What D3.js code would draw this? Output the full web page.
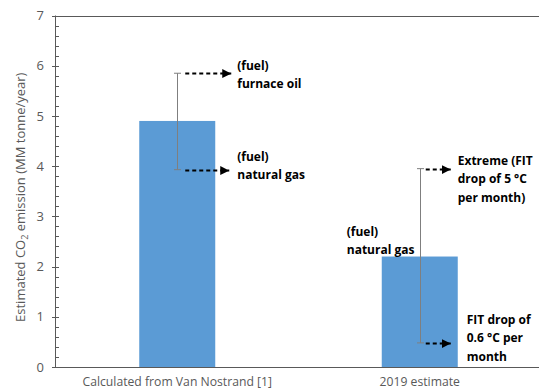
<!DOCTYPE html>
<html>
<head>
<meta charset="utf-8">
<script src="https://cdn.jsdelivr.net/npm/d3@7"></script>
<style>
  html, body { margin: 0; padding: 0; background: #fff; }
  svg { display: block; }
  text { font-family: "Open Sans", "Liberation Sans", sans-serif; }
</style>
</head>
<body>
<svg id="chart" width="539" height="392"></svg>
<script>
// Estimated CO2 emission per scenario (MM tonne/year)
const categories = ["Calculated from Van Nostrand [1]", "2019 estimate"];
const emissions = [4.9, 2.2];
const errorLow = [3.93, 0.48];
const errorHigh = [5.85, 3.95];
const yTicks = [0, 1, 2, 3, 4, 5, 6, 7];

// Callout labels: which bar, which value they point at, and their text lines
const arrowNotes = [
  { bar: 0, value: 5.85, lines: ["(fuel)", "furnace oil"] },
  { bar: 0, value: 3.93, lines: ["(fuel)", "natural gas"] },
  { bar: 1, value: 3.95, lines: ["Extreme (FIT", "drop of 5 °C", "per month)"] },
  { bar: 1, value: 0.48, lines: ["FIT drop of", "0.6 °C per", "month"] }
];
const plainNotes = [
  { bar: 1, value: 2.2, lines: ["(fuel)", "natural gas"] }
];

const svg = d3.select("#chart");
const plot = { left: 55, right: 539, top: 15.5, bottom: 367 };

const y = d3.scaleLinear().domain([0, 7]).range([plot.bottom, plot.top]);
const x = d3.scaleBand().domain(categories).range([56, 541]).padding(0);
const barW = 76;
const cx = i => x(categories[i]) + x.bandwidth() / 2;

const axisColor = "#595959";
const labelColor = "#595959";

// Arrowhead marker
svg.append("defs").append("marker")
  .attr("id", "head")
  .attr("viewBox", "0 0 10 10")
  .attr("refX", 10).attr("refY", 5)
  .attr("markerWidth", 4.5).attr("markerHeight", 4.5)
  .attr("markerUnits", "strokeWidth")
  .attr("orient", "auto")
  .append("path").attr("d", "M0,0 L10,5 L0,10 Z").attr("fill", "#000");

// Bars
svg.append("g").selectAll("rect")
  .data(emissions)
  .join("rect")
  .attr("x", (d, i) => cx(i) - barW / 2)
  .attr("y", d => y(d))
  .attr("width", barW)
  .attr("height", d => y(0) - y(d))
  .attr("fill", "#5B9BD5");

// Error bars
const eb = svg.append("g").attr("stroke", "#7f7f7f").attr("stroke-width", 1);
emissions.forEach((d, i) => {
  const c = Math.round(cx(i)) + 0.5;
  eb.append("line").attr("x1", c).attr("x2", c)
    .attr("y1", y(errorLow[i])).attr("y2", y(errorHigh[i]));
  [errorLow[i], errorHigh[i]].forEach(v => {
    eb.append("line").attr("x1", c - 3.5).attr("x2", c + 3.5)
      .attr("y1", y(v)).attr("y2", y(v));
  });
});

// Y axis with major and minor ticks
const yAxis = d3.axisLeft(y).tickValues(yTicks).tickFormat(d3.format("d"))
  .tickSize(0).tickPadding(11);
const gy = svg.append("g").attr("transform", `translate(${plot.left},0)`).call(yAxis);
gy.select(".domain").remove();
gy.selectAll(".tick text")
  .attr("fill", labelColor).style("font-size", "13px");

const minor = d3.range(0, 7.0001, 0.2).map(v => +v.toFixed(1));
svg.append("g").attr("stroke", axisColor).attr("stroke-width", 1)
  .selectAll("line").data(minor).join("line")
  .attr("x1", d => Number.isInteger(d) ? plot.left - 3 : plot.left)
  .attr("x2", plot.left + 4)
  .attr("y1", d => Math.round(y(d)) + 0.5)
  .attr("y2", d => Math.round(y(d)) + 0.5);

// Axis frame lines: left, bottom, top
const frame = svg.append("g").attr("stroke", axisColor).attr("stroke-width", 1);
frame.append("line").attr("x1", plot.left + 0.5).attr("x2", plot.left + 0.5)
  .attr("y1", y(7)).attr("y2", y(0));
frame.append("line").attr("x1", plot.left).attr("x2", plot.right)
  .attr("y1", Math.round(y(0)) + 0.5).attr("y2", Math.round(y(0)) + 0.5);
frame.append("line").attr("x1", plot.left).attr("x2", plot.right)
  .attr("y1", Math.round(y(7)) + 0.5).attr("y2", Math.round(y(7)) + 0.5);

// X category labels
const xAxis = d3.axisBottom(x).tickSize(0).tickPadding(10);
const gx = svg.append("g").attr("transform", `translate(0,${plot.bottom})`).call(xAxis);
gx.select(".domain").remove();
gx.selectAll(".tick text").attr("fill", labelColor).style("font-size", "12.2px");

// Y axis title
svg.append("text")
  .attr("transform", `translate(25,${(plot.top + plot.bottom) / 2 + 6}) rotate(-90)`)
  .attr("text-anchor", "middle")
  .attr("fill", labelColor)
  .style("font-size", "13px")
  .call(t => {
    t.append("tspan").text("Estimated CO");
    t.append("tspan").text("2").attr("dy", 3).style("font-size", "9px");
    t.append("tspan").text(" emission (MM tonne/year)").attr("dy", -3);
  });

// Dashed arrows pointing from the error bar ends to their labels
const arrowGeom = [
  { x0: 8, x1: 54, tx: 60, ty: -4 },
  { x0: 8, x1: 52, tx: 60, ty: -10 },
  { x0: 6, x1: 31, tx: 38, ty: -5 },
  { x0: 6, x1: 31, tx: 47, ty: -20 }
];
const notes = svg.append("g");
arrowNotes.forEach((n, k) => {
  const g = arrowGeom[k];
  const c = cx(n.bar), yy = Math.round(y(n.value)) + 0.5;
  notes.append("line")
    .attr("x1", c + g.x0).attr("x2", c + g.x1)
    .attr("y1", yy).attr("y2", yy)
    .attr("stroke", "#000").attr("stroke-width", 2)
    .attr("stroke-dasharray", "4,3")
    .attr("marker-end", "url(#head)");
  n.lines.forEach((s, j) => {
    notes.append("text")
      .attr("x", c + g.tx).attr("y", yy + g.ty + j * 18.5)
      .attr("font-weight", "bold").style("font-size", "12px")
      .attr("fill", "#000").text(s);
  });
});
plainNotes.forEach(n => {
  const c = cx(n.bar), yy = y(n.value);
  n.lines.forEach((s, j) => {
    notes.append("text")
      .attr("x", c - 73).attr("y", yy - 21 + j * 18.5)
      .attr("font-weight", "bold").style("font-size", "12px")
      .attr("fill", "#000").text(s);
  });
});
</script>
</body>
</html>
